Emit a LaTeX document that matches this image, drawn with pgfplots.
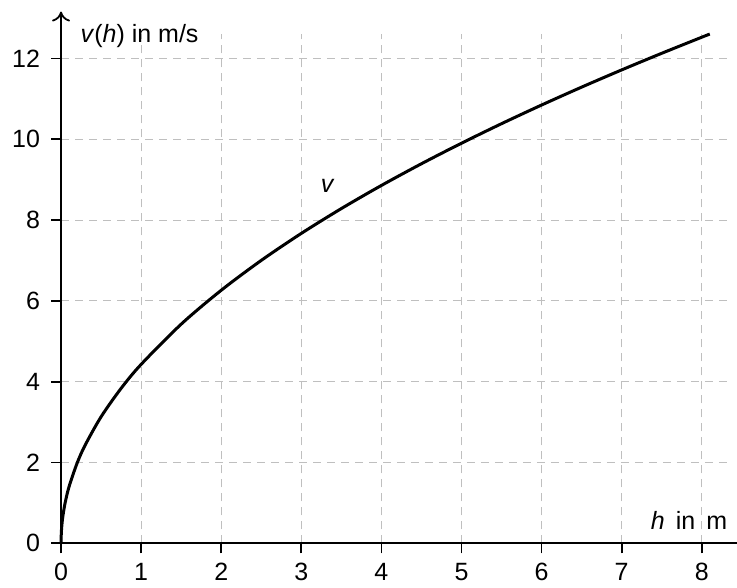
\documentclass[border=0pt]{standalone}
\usepackage{fontspec}
\setmainfont{Liberation Sans}
\usepackage{pgfplots}
\pgfplotsset{compat=1.18}
\usetikzlibrary{arrows.meta}

\begin{document}
\begin{tikzpicture}
\begin{axis}[
  scale only axis,
  x=40.05pt, y=20.2pt,
  xmin=0, xmax=8.35,
  ymin=0, ymax=12.62,
  axis lines=left,
  x axis line style={-{To[length=5pt,width=9pt]}, shorten >=-13pt, line width=0.9pt},
  y axis line style={-{To[length=5pt,width=9pt]}, shorten >=-11pt, line width=0.9pt},
  xtick={0,1,...,8},
  ytick={0,2,...,12},
  tick align=outside,
  major tick length=5pt,
  tick style={black, line width=0.9pt},
  grid=major,
  grid style={gray!50, dash pattern=on 4pt off 3pt, line width=0.5pt},
  clip=false,
  tick label style={font=\fontsize{12.5}{14}\selectfont},
  /pgf/number format/assume math mode=true,
  xticklabel style={yshift=-1.5pt},
  yticklabel style={xshift=-2pt},
]
\addplot[black, line width=1.5pt, smooth] coordinates {
  (0,0) (0.005,0.3132) (0.02,0.6264) (0.05,0.9905) (0.1,1.4007)
  (0.2,1.9809) (0.3,2.4261) (0.5,3.1321) (0.75,3.8360) (1,4.4294)
  (1.5,5.4249) (2,6.2642) (2.5,7.0036) (3,7.6720) (3.5,8.2867)
  (4,8.8589) (4.5,9.3963) (5,9.9045) (5.5,10.3880) (6,10.8499)
  (6.5,11.2929) (7,11.7192) (7.5,12.1305) (8,12.5284) (8.1,12.6064)
};
\node[anchor=west, inner sep=0pt, font=\fontsize{12.5}{14}\selectfont] at (axis cs:0.24,12.55) {\textit{v}(\textit{h}) in m/s};
\node[anchor=west, inner sep=0pt, font=\fontsize{12.5}{14}\selectfont] at (axis cs:7.36,0.57) {\textit{h} \,in\, m};
\node[inner sep=0pt, font=\fontsize{12.5}{14}\selectfont] at (axis cs:3.33,8.86) {\textit{v}};
\coordinate (bl) at (axis cs:-0.762,-1.1);
\coordinate (tr) at (axis cs:8.44,13.45);
\end{axis}
\pgfresetboundingbox
\path (bl) rectangle (tr);
\end{tikzpicture}
\end{document}
